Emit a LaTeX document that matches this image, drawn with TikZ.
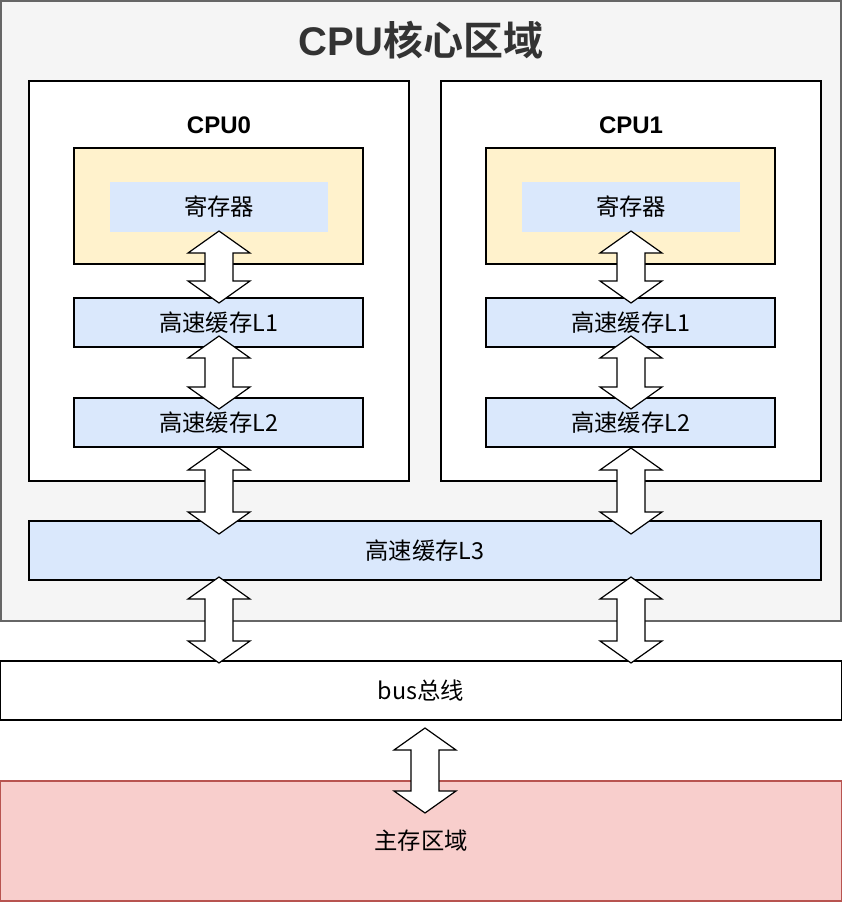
\documentclass[tikz,border=0pt]{standalone}
\usepackage{fontspec}
\setmainfont{Noto Sans CJK SC}[BoldFont={Noto Sans CJK SC Bold}]
\newfontfamily\latinfont{Liberation Sans}
\usetikzlibrary{positioning}
\definecolor{coregray}{HTML}{F5F5F5}
\definecolor{coreline}{HTML}{666666}
\definecolor{regyellow}{HTML}{FFF2CC}
\definecolor{cacheblue}{HTML}{DAE8FC}
\definecolor{memred}{HTML}{F8CECC}
\definecolor{memline}{HTML}{B85450}
\definecolor{titlegray}{HTML}{333333}
\newcommand{\pxu}{0.75pt}
% block arrow with a head at both ends: x, top y, bottom y
\newcommand{\dblarrow}[3]{%
  \draw[blockarrow] (#1,#2) -- (#1+31,#2+22) -- (#1+14,#2+22) -- (#1+14,#3-22)
    -- (#1+31,#3-22) -- (#1,#3) -- (#1-31,#3-22) -- (#1-14,#3-22)
    -- (#1-14,#2+22) -- (#1-31,#2+22) -- cycle;}

\begin{document}
\begin{tikzpicture}[x=0.75pt,y=-0.75pt,inner sep=0pt,outer sep=0pt,
    every node/.style={font=\fontsize{17.5}{20}\selectfont},
    core/.style={rectangle,fill=coregray,draw=coreline,line width=0.8pt},
    cpubox/.style={rectangle,fill=white,draw=black,line width=0.8pt,
      minimum width=380*\pxu,minimum height=400*\pxu},
    regarea/.style={rectangle,fill=regyellow,draw=black,line width=0.8pt,
      minimum width=289*\pxu,minimum height=116*\pxu},
    reg/.style={rectangle,fill=cacheblue,minimum width=218*\pxu,minimum height=50*\pxu},
    cache/.style={rectangle,fill=cacheblue,draw=black,line width=0.8pt,
      minimum width=289*\pxu,minimum height=49*\pxu},
    cpulabel/.style={font=\fontsize{18}{20}\latinfont\bfseries},
    blockarrow/.style={fill=white,draw=black,line width=0.9pt,line join=miter}]

  \useasboundingbox (0,0) rectangle (842,902);

  % core region
  \node[core,minimum width=840*\pxu,minimum height=620*\pxu] (core) at (421,311) {};
  \node[font=\fontsize{30}{32}\selectfont\bfseries,text=titlegray] (title) at (421,40)
    {{\latinfont CPU}核心区域};

  % CPU0
  \node[cpubox] (cpu0) at (219,281) {};
  \node[cpulabel] (cpu0label) at (219,125) {CPU0};
  \node[regarea] (regarea0) at (218.5,206) {};
  \node[reg] (reg0) at (219,207) {寄存器};
  \node[cache] (l1a) at (218.5,322.5) {高速缓存L1};
  \node[cache] (l2a) at (218.5,422.5) {高速缓存L2};

  % CPU1
  \node[cpubox] (cpu1) at (631,281) {};
  \node[cpulabel] (cpu1label) at (631,125) {CPU1};
  \node[regarea] (regarea1) at (630.5,206) {};
  \node[reg] (reg1) at (631,207) {寄存器};
  \node[cache] (l1b) at (630.5,322.5) {高速缓存L1};
  \node[cache] (l2b) at (630.5,422.5) {高速缓存L2};

  % shared cache, bus and memory
  \node[cache,minimum width=792*\pxu,minimum height=59*\pxu] (l3) at (425,550.5) {高速缓存L3};
  \node[rectangle,fill=white,draw=black,line width=0.8pt,
    minimum width=841*\pxu,minimum height=59*\pxu] (bus) at (421,690.5) {bus总线};
  \node[rectangle,fill=memred,draw=memline,line width=0.8pt,
    minimum width=841*\pxu,minimum height=120*\pxu] (mem) at (421,841) {主存区域};

  % arrows
  \dblarrow{219}{231}{303}
  \dblarrow{219}{336}{409}
  \dblarrow{219}{448}{534}
  \dblarrow{631}{231}{303}
  \dblarrow{631}{336}{409}
  \dblarrow{631}{448}{534}
  \dblarrow{219}{577}{663}
  \dblarrow{631}{577}{663}
  \dblarrow{425}{728}{813}
\end{tikzpicture}
\end{document}
